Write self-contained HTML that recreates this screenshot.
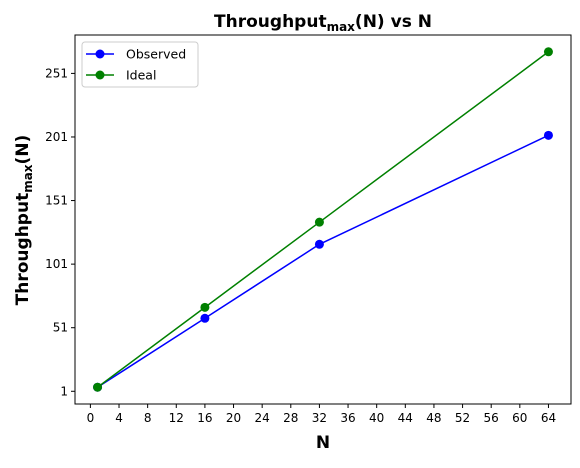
<!DOCTYPE html>
<html><head><meta charset="utf-8"><style>
body{margin:0;background:#fff;font-family:"Liberation Sans","DejaVu Sans",sans-serif}
</style></head><body>
<svg id="chart" width="580" height="463" xmlns="http://www.w3.org/2000/svg" font-family="DejaVu Sans, Liberation Sans, sans-serif"></svg>
<script>
const nValues=[1,16,32,64];
const observed=[4.19,58.4,116.6,202.3];
const ideal=[4.19,67,134,268];
const xTicks=[0,4,8,12,16,20,24,28,32,36,40,44,48,52,56,60,64];
const yTicks=[1,51,101,151,201,251];
const L=75,R=571,T=35,B=404;
const xMin=-2.15,xMax=67.15,yMin=-9,yMax=281.2;
const sx=v=>L+(v-xMin)/(xMax-xMin)*(R-L);
const sy=v=>B-(v-yMin)/(yMax-yMin)*(B-T);
const svg=document.getElementById('chart');
const NS='http://www.w3.org/2000/svg';
function mk(t,a,p){const e=document.createElementNS(NS,t);for(const k in a)e.setAttribute(k,a[k]);(p||svg).appendChild(e);return e;}
let e;
e=mk('rect',{x:L,y:T,width:R-L,height:B-T,fill:'none',stroke:'#000','stroke-width':1});


xTicks.forEach(t=>{const x=sx(t);mk('line',{x1:x,x2:x,y1:B,y2:B+4,stroke:'#000'});
e=mk('text',{x:x,y:B+18,'text-anchor':'middle','font-size':12});e.textContent=t;

});
yTicks.forEach(t=>{const y=sy(t);mk('line',{x1:L-4,x2:L,y1:y,y2:y,stroke:'#000'});
e=mk('text',{x:L-7,y:y+4,'text-anchor':'end','font-size':12});e.textContent=t;

});
function series(vals,color,name){
 const pts=nValues.map((n,i)=>sx(n)+','+sy(vals[i])).join(' ');
 e=mk('polyline',{points:pts,fill:'none',stroke:color,'stroke-width':1.5});
 
 
 nValues.forEach((n,i)=>{e=mk('circle',{cx:sx(n),cy:sy(vals[i]),r:4.5,fill:color});
 
 });
}
series(observed,'#0000ff','observed');
series(ideal,'#008000','ideal');
e=mk('text',{x:323,y:27,'text-anchor':'middle','font-size':17,'font-weight':'bold'});
e.innerHTML='Throughput<tspan font-size="12" dy="4">max</tspan><tspan dy="-4">(N) vs N</tspan>';


e=mk('text',{x:323,y:448,'text-anchor':'middle','font-size':17,'font-weight':'bold'});e.textContent='N';


e=mk('text',{x:0,y:0,'text-anchor':'middle','font-size':17,'font-weight':'bold',transform:'translate(28,220) rotate(-90)'});
e.innerHTML='Throughput<tspan font-size="12" dy="4">max</tspan><tspan dy="-4">(N)</tspan>';


const lg=mk('g',{});


mk('rect',{x:82,y:42,width:116,height:45,rx:3,fill:'#fff',stroke:'#ccc'},lg);
[['Observed','#0000ff',54],['Ideal','#008000',75]].forEach(([lab,c,y])=>{
 const g=mk('g',{},lg);
 
 
 mk('line',{x1:86,x2:114,y1:y,y2:y,stroke:c,'stroke-width':1.5},g);
 mk('circle',{cx:100,cy:y,r:4.5,fill:c},g);
 const t=mk('text',{x:126,y:y+4.5,'font-size':12.5},g);t.textContent=lab;
});
</script>
</body></html>
